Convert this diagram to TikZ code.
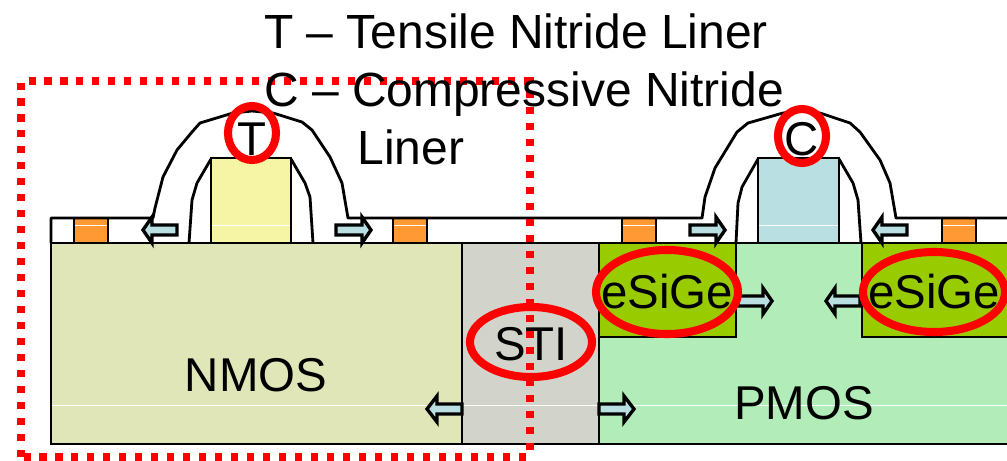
\documentclass[tikz,border=0pt]{standalone}
\usepackage{fontspec}
\setmainfont{Liberation Sans}
\usetikzlibrary{positioning}
\definecolor{nmosfill}{HTML}{E0E6B8}
\definecolor{stifill}{HTML}{D2D3CB}
\definecolor{pmosfill}{HTML}{B2ECB8}
\definecolor{sigefill}{HTML}{99CC00}
\definecolor{contactfill}{HTML}{FF9933}
\definecolor{ngatefill}{HTML}{F5F5A5}
\definecolor{pgatefill}{HTML}{B9DFE2}
\tikzset{
  layer/.style={draw=black, line width=1.6pt},
  liner/.style={draw=black, line width=1.6pt, line join=round},
  strain/.style={draw=black, fill=pgatefill, line width=1.9pt, miter limit=10},
  seam/.style={draw=white, line width=0.5pt},
  redoval/.style={draw=red, line width=4.6pt},
  reddots/.style={draw=red, line width=4pt, dash pattern=on 4pt off 5.1pt},
  titletext/.style={font=\fontsize{27.3}{33}\selectfont, inner sep=0pt, anchor=base},
  regiontext/.style={font=\fontsize{27}{32}\selectfont, inner sep=0pt, anchor=base}
}
\begin{document}
\begin{tikzpicture}[x=0.02cm, y=-0.02cm, thick]
	\useasboundingbox (0, 0) rectangle (1007, 460);

	% substrate
	\draw[layer, fill=nmosfill] (51, 243) rectangle (462, 444);
	\draw[layer, fill=stifill] (462, 243) rectangle (599, 444);
	\draw[layer, fill=pmosfill] (599, 243) rectangle (1012, 444);
	\draw[layer, fill=sigefill] (599, 243) rectangle (736, 337);
	\draw[layer, fill=sigefill] (862, 243) rectangle (1012, 337);
	\draw[seam] (52, 405) -- (1007, 405);

	% contacts
	\foreach \x in {74, 393, 622, 942}
		\draw[layer, fill=contactfill] (\x, 218) rectangle ++(34, 25);
	\foreach \x in {75, 394, 623, 943}
		\draw[seam] (\x, 225) -- ++(32, 0);

	% gates and spacers
	\draw[layer, fill=ngatefill] (211, 158) rectangle (291, 243);
	\draw[layer, fill=pgatefill] (758, 158) rectangle (839, 243);
	\draw[seam] (212, 225) -- (290, 225);
	\draw[seam] (759, 225) -- (838, 225);
	\draw[liner] (211, 159) -- (197, 183) -- (192, 200) -- (189, 243);
	\draw[liner] (291, 159) -- (305, 183) -- (310, 197) -- (313, 243);
	\draw[liner] (758, 159) -- (742, 187) -- (738, 203) -- (736, 243);
	\draw[liner] (839, 159) -- (853, 183) -- (858, 200) -- (861, 243);

	% nitride liner
	\draw[liner] (51, 243) -- (51, 218) -- (153, 218) -- (155, 208) -- (163, 177) -- (177, 150)
		-- (192, 132) -- (200, 123) -- (233, 113) -- (252, 111) -- (273, 113) -- (302, 122)
		-- (312, 130) -- (330, 157) -- (342, 183) -- (348, 218) -- (702, 218) -- (705, 197)
		-- (715, 168) -- (737, 132) -- (748, 123) -- (783, 113) -- (802, 111) -- (820, 113)
		-- (850, 123) -- (860, 132) -- (880, 160) -- (890, 183) -- (896, 218) -- (1012, 218);

	% strain arrows
	\foreach \tip/\base/\tail/\y in {143/152/177/230, 371/362/336/230, 725/716/690/230, 873/882/907/230,
			772/763/738/301, 826/835/860/301, 427/437/462/409, 634/624/599/409}
		\draw[strain] (\tail, \y-5) -- (\base, \y-5) -- (\base, \y-13) -- (\tip, \y)
			-- (\base, \y+13) -- (\base, \y+5) -- (\tail, \y+5) -- cycle;

	% red marks
	\draw[reddots] (28.5, 81) -- (530, 81) -- (530, 452);
	\draw[reddots] (21, 82.5) -- (21, 460);
	\draw[reddots] (23.5, 457) -- (530, 457);
	\draw[redoval] (252, 133) ellipse (24 and 27);
	\draw[redoval] (802, 136) ellipse (24 and 27);
	\draw[redoval] (531, 342) ellipse (61 and 35);
	\draw[redoval] (667, 292) ellipse (71 and 42);
	\draw[redoval] (934, 292) ellipse (71 and 40);

	% labels
	\node[titletext] (tensile) at (516, 48) {T – Tensile Nitride Liner};
	\node[titletext] (compressive) at (524, 106) {C – Compressive Nitride};
	\node[titletext] (linerword) at (411, 164) {Liner};
	\node[regiontext] (tmark) at (252, 155) {T};
	\node[regiontext] (cmark) at (802, 155) {C};
	\node[regiontext] (nmos) at (256, 391) {NMOS};
	\node[regiontext] (pmos) at (804, 419) {PMOS};
	\node[regiontext] (sti) at (531, 360) {STI};
	\node[regiontext] (esigeleft) at (667, 308) {eSiGe};
	\node[regiontext] (esigeright) at (934, 308) {eSiGe};
\end{tikzpicture}
\end{document}
